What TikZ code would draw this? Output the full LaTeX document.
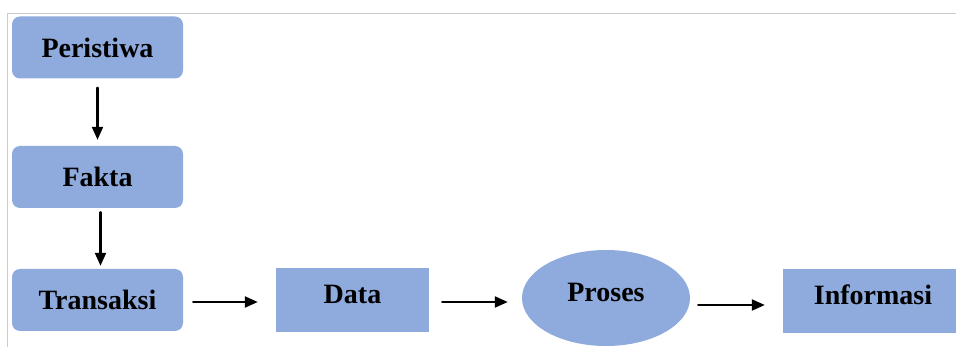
\documentclass[tikz,border=0pt]{standalone}
\usepackage{fontspec}
\setmainfont{Liberation Serif}
\usetikzlibrary{arrows.meta,shapes.geometric}
\definecolor{kotakbiru}{HTML}{8FAADC}
\tikzset{
  kotak/.style={fill=kotakbiru, draw=none, minimum width=171pt, minimum height=62pt,
    rounded corners=8pt, font=\fontsize{28}{30}\selectfont\bfseries, inner sep=0pt},
  naik/.style={text height=20pt, text depth=13pt},
  panah/.style={-{Triangle[length=13pt,width=11pt]}, line width=2.2pt}
}
\begin{document}
\begin{tikzpicture}[x=1pt, y=-1pt, line cap=round, line join=round]
  \useasboundingbox (0,0) rectangle (956,347);

  % Tepi halaman
  \draw[black!20, line width=0.8pt] (7,347) -- (7,13) -- (956,13);

  % Kolom kiri
  \node[kotak] (peristiwa) at (97.5,47.5) {Peristiwa};
  \node[kotak] (fakta) at (97.5,177) {Fakta};
  \node[kotak] (transaksi) at (97.5,300) {Transaksi};

  % Baris bawah
  \node[kotak, naik, rounded corners=0pt, minimum width=153pt, minimum height=64pt]
    (data) at (352.5,300) {Data};
  \node[kotak, naik, ellipse, minimum width=168pt, minimum height=96pt]
    (proses) at (606,298) {Proses};
  \node[kotak, naik, rounded corners=0pt, minimum width=180pt, minimum height=64pt]
    (informasi) at (873,301) {Informasi};

  % Panah
  \draw[panah, shorten <=9pt, shorten >=6pt] (peristiwa) -- (fakta);
  \draw[panah, shorten <=4pt, shorten >=3pt] ([xshift=3pt]fakta.south) -- ([xshift=3pt]transaksi.north);
  \draw[panah, shorten <=10pt, shorten >=18pt] (transaksi.east |- 0,302) -- (data.west |- 0,302);
  \draw[panah, shorten <=13pt, shorten >=14pt] (data.east |- 0,302) -- (proses.west |- 0,302);
  \draw[panah, shorten <=8pt, shorten >=18pt] (proses.east |- 0,305) -- (informasi.west |- 0,305);
\end{tikzpicture}
\end{document}
